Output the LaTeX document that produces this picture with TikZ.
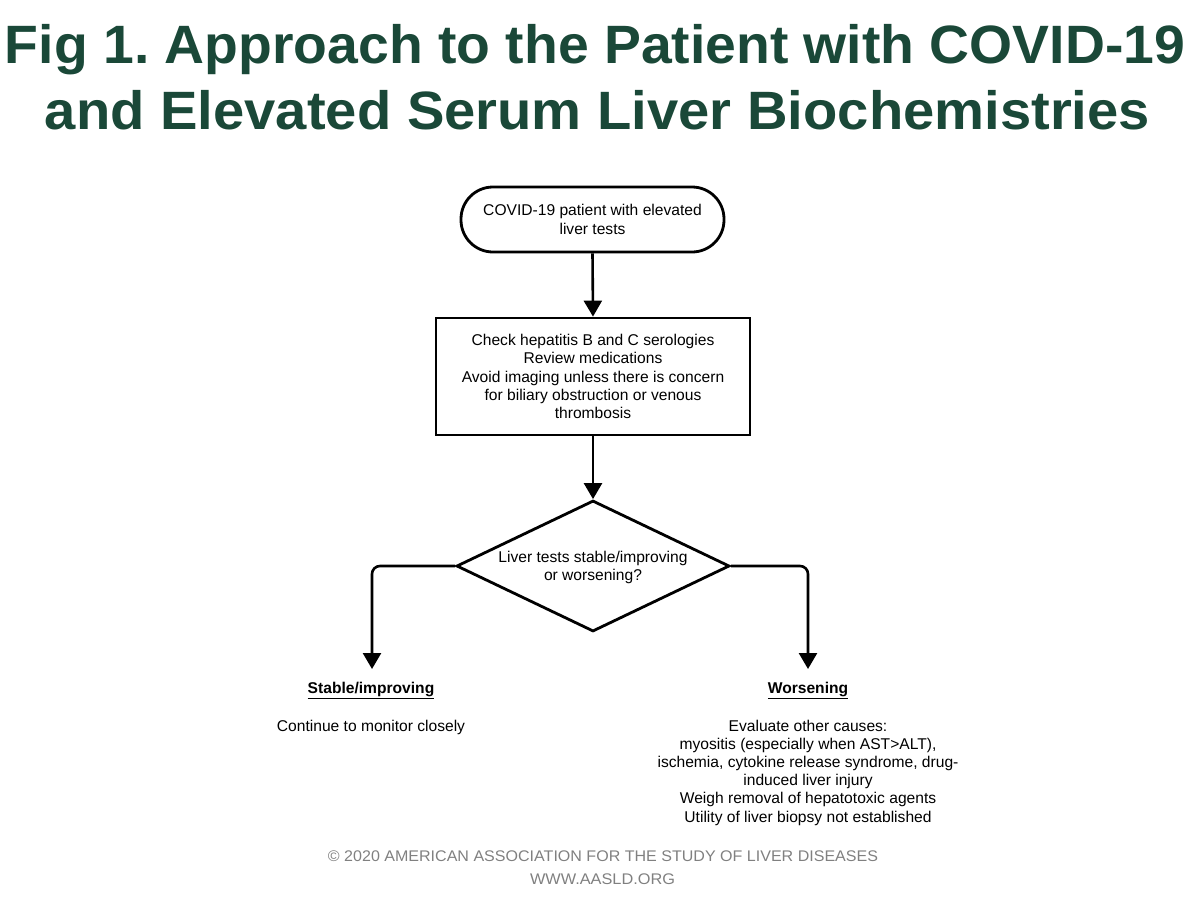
\documentclass[tikz,border=0pt]{standalone}
\usepackage{fontspec}
\setmainfont{Liberation Sans}
\usepackage{graphicx}
\usetikzlibrary{shapes.geometric,arrows.meta}
\definecolor{titlegreen}{RGB}{26,72,56}
\definecolor{footgray}{RGB}{128,128,128}
\frenchspacing
\tikzset{
  body/.style={font=\fontsize{15.6}{18.2}\selectfont, align=center, inner sep=0pt, text=black},
  shapeline/.style={draw=black, line width=2.8pt},
  arr/.style={line width=2.6pt, -{Triangle[width=18pt,length=16pt]}},
  titletext/.style={text=titlegreen, inner sep=0pt, anchor=base},
  foot/.style={text=footgray, inner sep=0pt, font=\fontsize{15.4}{18}\selectfont}
}
\begin{document}
\begin{tikzpicture}[x=1pt,y=-1pt]
\useasboundingbox (0,0) rectangle (1197,905);
% title
\node[titletext] (t1) at (595,63) {\resizebox{1180pt}{\height}{\fontsize{54}{60}\selectfont\bfseries Fig 1. Approach to the Patient with COVID-19}};
\node[titletext] (t2) at (597.5,129) {\resizebox{1105pt}{\height}{\fontsize{54}{60}\selectfont\bfseries and Elevated Serum Liver Biochemistries}};
% nodes
\node[body, shapeline, rounded corners=32pt, minimum width=263pt, minimum height=65pt] (start) at (592.5,219.5) {COVID-19 patient with elevated\\liver tests};
\node[body, shapeline, minimum width=314pt, minimum height=117pt] (check) at (593,376.5) {Check hepatitis B and C serologies\\Review medications\\Avoid imaging unless there is concern\\for biliary obstruction or venous\\thrombosis};
\node[shapeline, diamond, aspect=2.08, minimum width=273pt, minimum height=131pt, inner sep=0pt] (dec) at (593,566) {};
\node[body] (dectext) at (593,567.5) {Liver tests stable/improving\\or worsening?};
\coordinate (ltip) at (372,669);
\coordinate (rtip) at (808,669);
\draw[arr] (start.south) -- (check.north);
\draw[arr] (check.south) -- (dec.north);
\draw[arr, rounded corners=8pt] (dec.west) -| (ltip);
\draw[arr, rounded corners=8pt] (dec.east) -| (rtip);
% outcome texts
\node[body] (stab) at (371,690) {\bfseries\underline{Stable/improving}};
\node[body] (cont) at (371,727) {Continue to monitor closely};
\node[body] (wors) at (808,690) {\bfseries\underline{Worsening}};
\node[body] (eval) at (808,772.5) {Evaluate other causes:\\myositis (especially when AST>ALT),\\ischemia, cytokine release syndrome, drug-\\induced liver injury\\Weigh removal of hepatotoxic agents\\Utility of liver biopsy not established};
% footer
\node[foot] (f1) at (603,856) {\resizebox{550pt}{\height}{© 2020 AMERICAN ASSOCIATION FOR THE STUDY OF LIVER DISEASES}};
\node[foot] (f2) at (602.5,879) {\resizebox{145pt}{\height}{WWW.AASLD.ORG}};
\end{tikzpicture}
\end{document}
